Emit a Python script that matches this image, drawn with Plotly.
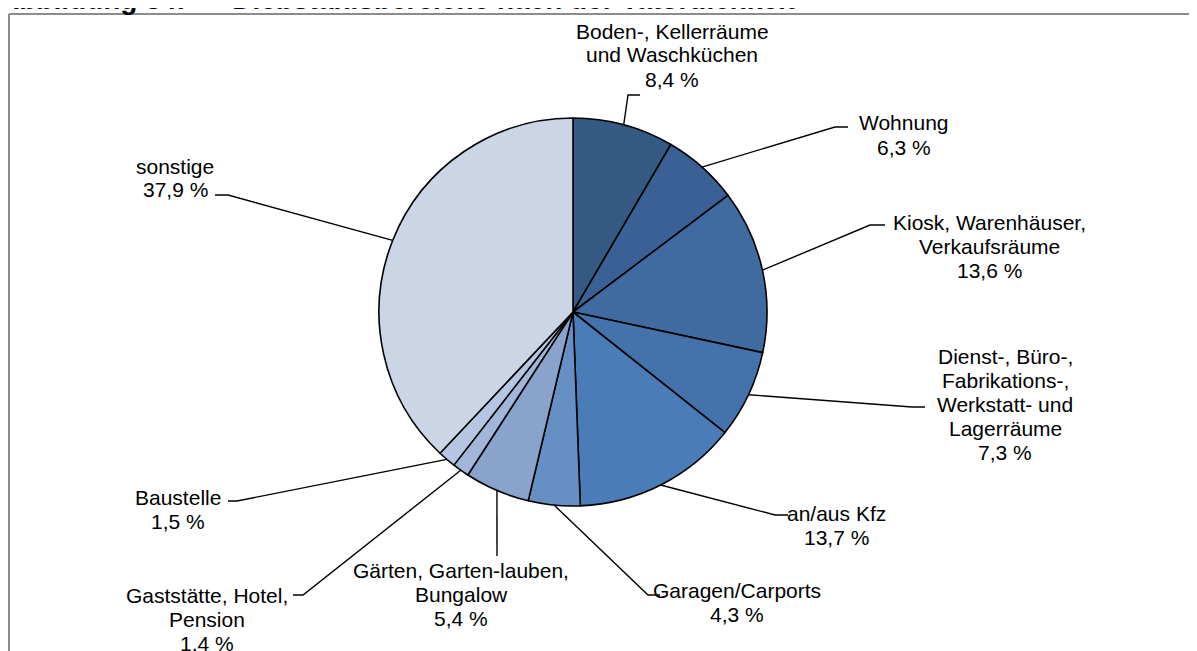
import math

import plotly.graph_objects as go

W, H = 1197, 651
OFF = 8  # the page body margin shifts the figure by this many pixels

# data, clockwise from 12 o'clock
labels = [
    "Boden-, Kellerräume<br>und Waschküchen",
    "Wohnung",
    "Kiosk, Warenhäuser,<br>Verkaufsräume",
    "Dienst-, Büro-,<br>Fabrikations-,<br>Werkstatt- und<br>Lagerräume",
    "an/aus Kfz",
    "Garagen/Carports",
    "Gärten, Garten-lauben,<br>Bungalow",
    "Gaststätte, Hotel,<br>Pension",
    "Baustelle",
    "sonstige",
]
values = [8.4, 6.3, 13.6, 7.3, 13.7, 4.3, 5.4, 1.4, 1.5, 37.9]
colors = [
    "#345A84", "#3A6195", "#3F6BA0", "#4472AB", "#4A7CB8",
    "#668FC4", "#89A3CC", "#A2B6DA", "#B5C5E2", "#CBD5E6",
]

# layout (page pixels): pie centre/radius, label centre and leader elbow per slice
cx, cy, r = 573, 312, 194
label_pos = [(672, 31), (904, 123), (989, 222), (1005, 356), (836, 513),
             (737, 590), (461, 570), (207, 595), (178, 497), (175, 166)]
elbows = [((628, 95), (640, 95)), ((835, 127), (848, 127)),
          ((870, 225), (885, 225)), ((912, 407), (925, 407)),
          ((775, 515), (788, 515)), ((648, 595), (660, 595)),
          ((497, 556), (497, 556)), ((303, 595), (293, 595)),
          ((237, 501), (228, 501)), ((228, 195), (215, 195))]
LINE_H = 24
FONT = dict(family="Liberation Sans, Arial", size=21, color="black")


def px(x):
    return (x - OFF) / W


def py(y):
    return 1 - (y - OFF) / H


fig = go.Figure(
    go.Pie(
        labels=[l.replace("<br>", " ") for l in labels],
        values=values,
        sort=False,
        direction="clockwise",
        rotation=0,
        marker=dict(colors=colors, line=dict(color="black", width=1.6)),
        textinfo="none",
        hoverinfo="label+percent",
        domain=dict(x=[px(cx - r), px(cx + r)], y=[py(cy + r), py(cy - r)]),
        showlegend=False,
    )
)

total = sum(values)
cum = 0
shapes = []
annotations = []
for i, v in enumerate(values):
    mid = (cum + v / 2) / total * 2 * math.pi
    cum += v
    ex, ey = cx + r * math.sin(mid), cy - r * math.cos(mid)
    (x1, y1), (x2, y2) = elbows[i]
    path = f"M {px(ex)},{py(ey)} L {px(x1)},{py(y1)} L {px(x2)},{py(y2)}"
    shapes.append(dict(type="path", xref="paper", yref="paper", path=path,
                       line=dict(color="black", width=1.4)))
    lx, ly = label_pos[i]
    lines = labels[i].split("<br>") + [f"{v:.1f} %".replace(".", ",")]
    for k, t in enumerate(lines):
        annotations.append(dict(
            x=px(lx), y=py(ly + k * LINE_H), xref="paper", yref="paper",
            text=t, showarrow=False, xanchor="center", yanchor="middle",
            font=FONT,
        ))

# cropped figure title at the very top
annotations.append(dict(
    x=px(-3), y=py(0), xref="paper", yref="paper", xanchor="left",
    yanchor="middle", showarrow=False,
    text="<b>Abbildung 34:  –  Diebstahlsbereiche nach der Tatörtlichkeit</b>",
    font=dict(family="Liberation Sans, Arial", size=28, color="black"),
))

# frame around the chart area
shapes.append(dict(type="line", xref="paper", yref="paper",
                   x0=px(9), x1=1.01, y0=py(14), y1=py(14),
                   line=dict(color="#8C8C8C", width=2)))
shapes.append(dict(type="line", xref="paper", yref="paper",
                   x0=px(9), x1=px(9), y0=py(14), y1=-0.02,
                   line=dict(color="#8C8C8C", width=2)))

fig.update_layout(
    width=W,
    height=H,
    margin=dict(l=0, r=0, t=0, b=0),
    paper_bgcolor="white",
    plot_bgcolor="white",
    shapes=shapes,
    annotations=annotations,
)
fig.write_html("out.html")
